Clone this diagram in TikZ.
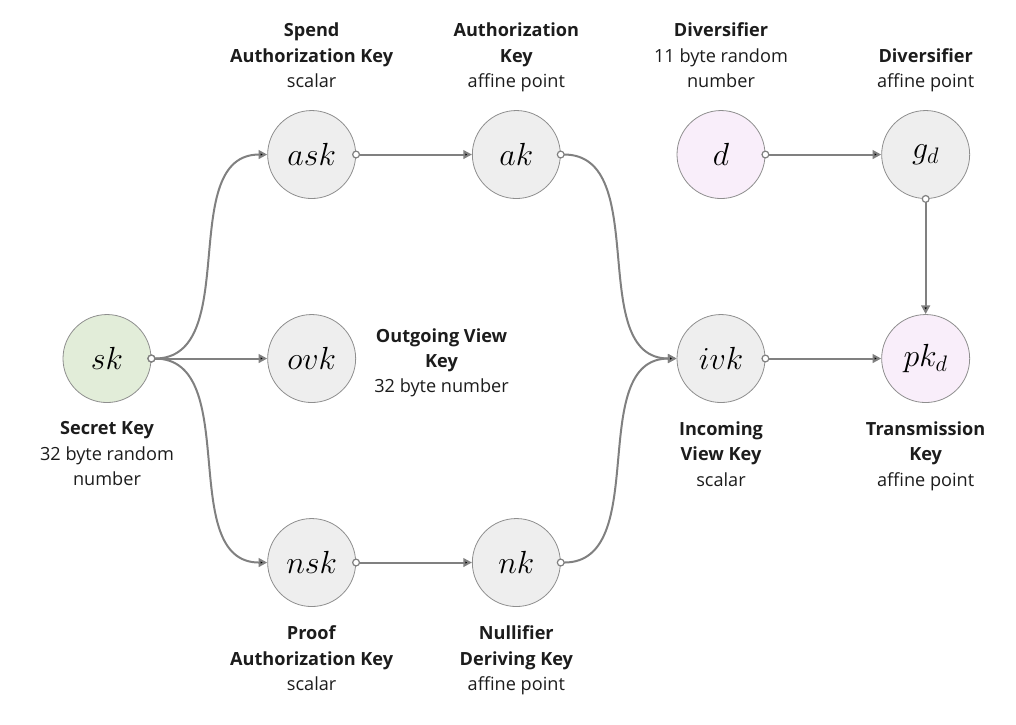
\documentclass[tikz,border=0pt]{standalone}
\usepackage{fix-cm}
\usepackage{fontspec}
\setmainfont{Open Sans}
\usetikzlibrary{arrows.meta,positioning}

\definecolor{keygray}{HTML}{EEEEEE}
\definecolor{keygreen}{HTML}{E2EDD9}
\definecolor{keypink}{HTML}{F9EEFA}
\definecolor{rimgray}{HTML}{8E8E8E}
\definecolor{edgegray}{HTML}{808080}
\definecolor{inkgray}{HTML}{1C1C1C}

\tikzset{
  key/.style={circle, draw=rimgray, line width=0.6pt, fill=keygray,
    minimum size=66pt, inner sep=0pt, font=\fontsize{24}{28}\selectfont},
  info/.style={align=center, inner sep=0pt, text=inkgray,
    font=\fontsize{13.6}{19}\selectfont,
    execute at begin node=\strut, execute at end node=\strut},
  link/.style={draw=edgegray, line width=1.5pt,
    {Circle[open, fill=white, length=6pt, line width=0.9pt]}-{Triangle[length=6.5pt, width=6.5pt]},
    shorten <=-3pt}
}

\begin{document}
\begin{tikzpicture}[node distance = 153pt and 153.5pt, on grid]
\useasboundingbox (-80.25pt,-274.1pt) rectangle (681.75pt,268.9pt);
\node [key, fill=keygreen] (sk) {$sk$};
\node [key] (ovk) [right = of sk] {$ovk$};
\node [key] (ask) [above = of ovk] {$ask$};
\node [key] (nsk) [below = of ovk] {$nsk$};
\node [key] (ak) [right = of ask] {$ak$};
\node [key] (nk) [right = of nsk] {$nk$};
\node [key, fill=keypink] (d) [right = of ak] {$d$};
\node [key] (gd) [right = of d] {$g_d$};
\node [key] (ivk) [below = of d] {$ivk$};
\node [key, fill=keypink] (pkd) [below = of gd] {$pk_d$};

% captions
\node [info, on grid=false] (sk_l) [below = 14pt of sk] {\textbf{Secret Key}\\32 byte random\\number};
\node [info, on grid=false] (ask_l) [above = 11pt of ask] {\textbf{Spend}\\\textbf{Authorization Key}\\scalar};
\node [info, on grid=false] (ak_l) [above = 11pt of ak] {\textbf{Authorization}\\\textbf{Key}\\affine point};
\node [info, on grid=false] (d_l) [above = 11pt of d] {\textbf{Diversifier}\\11 byte random\\number};
\node [info, on grid=false] (gd_l) [above = 11pt of gd] {\textbf{Diversifier}\\affine point};
\node [info, on grid=false, yshift=-4.5pt] (ovk_l) [right = 13.5pt of ovk] {\textbf{Outgoing View}\\\textbf{Key}\\32 byte number};
\node [info, on grid=false] (ivk_l) [below = 14pt of ivk] {\textbf{Incoming}\\\textbf{View Key}\\scalar};
\node [info, on grid=false] (pkd_l) [below = 14pt of pkd] {\textbf{Transmission}\\\textbf{Key}\\affine point};
\node [info, on grid=false] (nsk_l) [below = 14pt of nsk] {\textbf{Proof}\\\textbf{Authorization Key}\\scalar};
\node [info, on grid=false] (nk_l) [below = 14pt of nk] {\textbf{Nullifier}\\\textbf{Deriving Key}\\affine point};

\path [link]
(sk) edge [out=0, in=180] (ask)
edge (ovk)
edge [out=0, in=180] (nsk)
(ask) edge (ak)
(ak) edge [out=0, in=180] (ivk)
(nsk) edge (nk)
(nk) edge [out=0, in=180] (ivk)
(d) edge (gd)
(gd) edge (pkd)
(ivk) edge (pkd);
\end{tikzpicture}
\end{document}
